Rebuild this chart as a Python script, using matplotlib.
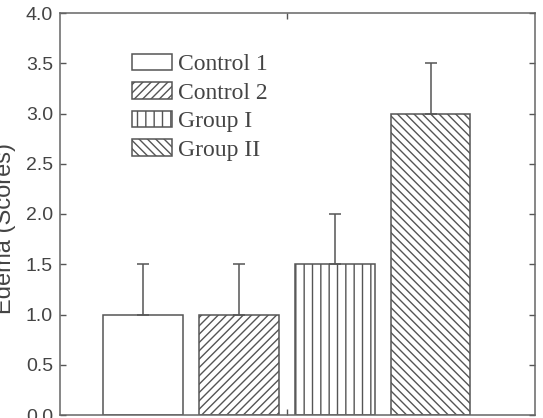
import numpy as np
import matplotlib
matplotlib.use("Agg")
import matplotlib.pyplot as plt

groups = ["Control 1", "Control 2", "Group I", "Group II"]
scores = [1.0, 1.0, 1.5, 3.0]
err_up = [0.5, 0.5, 0.5, 0.5]
hatches = ["", "////", "||", "\\\\\\\\"]

edge = "#555555"
txt = "#444444"

plt.rcParams["hatch.linewidth"] = 1.0

fig = plt.figure(figsize=(5.43, 4.18), dpi=100)
ax = fig.add_axes([60 / 543, 3 / 418, 475 / 543, 402 / 418])

x = np.arange(1, len(groups) + 1)
for xi, s, h, g in zip(x, scores, hatches, groups):
    ax.bar(xi, s, width=0.833, color="white", edgecolor=edge,
           linewidth=1.1, hatch=h, label=g, zorder=2)

ax.errorbar(x, scores, yerr=[np.zeros(len(scores)), err_up], fmt="none",
            ecolor=edge, elinewidth=1.1, capsize=4.5, capthick=1.1, zorder=3)

ax.set_xlim(0.135, 5.09)
ax.set_ylim(0, 4.0)
ax.set_yticks(np.arange(0, 4.01, 0.5))
ax.set_yticklabels([f"{v:.1f}" for v in np.arange(0, 4.01, 0.5)])
ax.set_xticks([2.5])
ax.set_xticklabels([])

for sp in ax.spines.values():
    sp.set_color("#666666")
    sp.set_linewidth(1.1)

ax.tick_params(axis="y", direction="in", length=4.5, width=1.0, color="#555555",
               left=True, right=True, labelsize=14, labelcolor=txt, pad=5)
ax.tick_params(axis="x", direction="in", length=4.5, width=1.0, color="#555555",
               top=True, bottom=True, labelbottom=False)
for lab in ax.get_yticklabels():
    lab.set_fontfamily("Liberation Sans")

fig.text(16 / 543, 1 - 228 / 418, "Edema (Scores)", rotation=90,
         ha="right", va="center", fontsize=17, color=txt,
         fontfamily="Liberation Sans")

leg = ax.legend(loc="upper left", bbox_to_anchor=(72 / 475, 1 - 41 / 402),
                frameon=False, borderaxespad=0, borderpad=0,
                handlelength=1.69, handleheight=0.68, handletextpad=0.25,
                labelspacing=0.3, prop={"family": "Liberation Serif", "size": 17})
for t in leg.get_texts():
    t.set_color(txt)

fig.savefig("out.png", dpi=100)
